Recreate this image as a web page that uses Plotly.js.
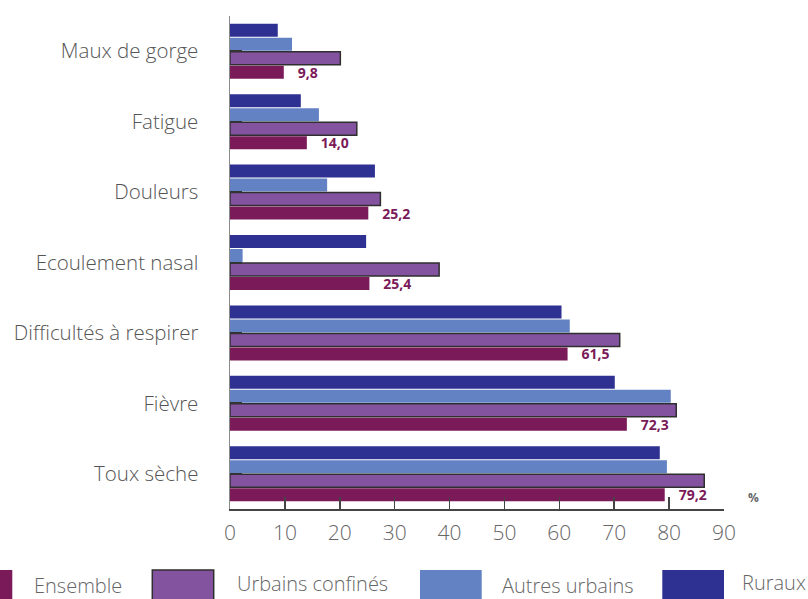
<!DOCTYPE html>
<html>
<head>
<meta charset="utf-8">
<script src="https://cdn.plot.ly/plotly-3.0.1.min.js"></script>
<style>html,body{margin:0;padding:0;background:#fff;}#chart{width:808px;height:599px;}</style>
</head>
<body>
<div id="chart"></div>
<script>
// Categories, top to bottom as in the reference
const categories = ["Maux de gorge", "Fatigue", "Douleurs", "Ecoulement nasal", "Difficultés à respirer", "Fièvre", "Toux sèche"];
const ensemble = [9.8, 14.0, 25.2, 25.4, 61.5, 72.3, 79.2];
const urbainsConfines = [20.1, 23.1, 27.4, 38.1, 71.0, 81.3, 86.4];
const autresUrbains = [11.3, 16.2, 17.7, 2.3, 61.9, 80.3, 79.6];
const ruraux = [8.7, 12.9, 26.4, 24.8, 60.4, 70.1, 78.3];
const seriesNames = ["Ensemble", "Urbains confinés", "Autres urbains", "Ruraux"];
const xTickVals = [0, 10, 20, 30, 40, 50, 60, 70, 80, 90];

const colors = {ens: "#7a1a58", urb: "#8453a0", aut: "#6282c3", rur: "#2e3192"};

const W = 808, H = 599, L = 230, R = 84, T = 16, B = 90;
const pw = W - L - R, ph = H - T - B;
const px = v => (v - L) / pw;
const py = v => (H - B - v) / ph;

const fmt = v => "\u00a0\u00a0\u00a0" + v.toFixed(1).replace(".", ",");

const traces = [
  {type: "bar", orientation: "h", name: seriesNames[3], y: categories, x: ruraux,
   marker: {color: colors.rur}, hoverinfo: "skip"},
  {type: "bar", orientation: "h", name: seriesNames[2], y: categories, x: autresUrbains,
   marker: {color: colors.aut}, hoverinfo: "skip"},
  {type: "bar", orientation: "h", name: seriesNames[1], y: categories, x: urbainsConfines,
   marker: {color: colors.urb, line: {color: "#2f2f2f", width: 1.5}}, hoverinfo: "skip"},
  {type: "bar", orientation: "h", name: seriesNames[0], y: categories, x: ensemble,
   marker: {color: colors.ens}, text: ensemble.map(fmt), textposition: "outside",
   constraintext: "none", cliponaxis: false,
   textfont: {family: "Open Sans", size: 14, color: colors.ens, weight: "bold"}, hoverinfo: "skip"}
];

const legendFont = {family: "Open Sans", size: 20, color: "#666", weight: 300};
const sw = (x0, x1, color, line) => ({type: "rect", xref: "paper", yref: "paper",
  x0: px(x0), x1: px(x1), y0: py(601), y1: py(570), fillcolor: color,
  line: line || {width: 0}, layer: "above"});

const layout = {
  width: W, height: H,
  margin: {l: L, r: R, t: T, b: B, pad: 0},
  paper_bgcolor: "#fff", plot_bgcolor: "#fff",
  showlegend: false,
  barmode: "group", bargap: 0.205, bargroupgap: 0.07,
  xaxis: {range: [0, 90], tickvals: xTickVals, ticks: "inside", ticklen: 12, tickwidth: 1.5,
    tickcolor: "#444", showline: true, linecolor: "#444", linewidth: 1.5, showgrid: false,
    zeroline: false, ticklabelstandoff: 4,
    tickfont: {family: "Open Sans", size: 21, color: "#666", weight: 300}},
  yaxis: {type: "category", range: [6.5, -0.5], ticks: "inside", ticklen: 12, tickwidth: 2,
    tickcolor: "#333", showline: true, linecolor: "#8a8a8a", linewidth: 1.5, showgrid: false,
    zeroline: false, ticklabelstandoff: 26,
    tickfont: {family: "Open Sans", size: 20.5, color: "#555", weight: 300}},
  shapes: [
    sw(-50, 12.3, colors.ens),
    sw(152.3, 213.7, colors.urb, {color: "#2f2f2f", width: 1.5}),
    sw(420, 481.7, colors.aut),
    sw(662.3, 724, colors.rur)
  ],
  annotations: [
    {text: seriesNames[0], x: px(33), y: py(585), xanchor: "left"},
    {text: seriesNames[1], x: px(236), y: py(583), xanchor: "left"},
    {text: seriesNames[2], x: px(501), y: py(585), xanchor: "left"},
    {text: seriesNames[3], x: px(807), y: py(582), xanchor: "right"}
  ].map(a => Object.assign(a, {xref: "paper", yref: "paper", yanchor: "middle", borderpad: 0,
      showarrow: false, font: legendFont})).concat([
    {text: "<b>%</b>", xref: "paper", yref: "paper", x: px(753), y: py(497), xanchor: "center",
     yanchor: "middle", showarrow: false, font: {family: "Open Sans", size: 12, color: "#666"}}
  ])
};

Plotly.newPlot("chart", traces, layout, {staticPlot: true, displayModeBar: false});
</script>
</body>
</html>
